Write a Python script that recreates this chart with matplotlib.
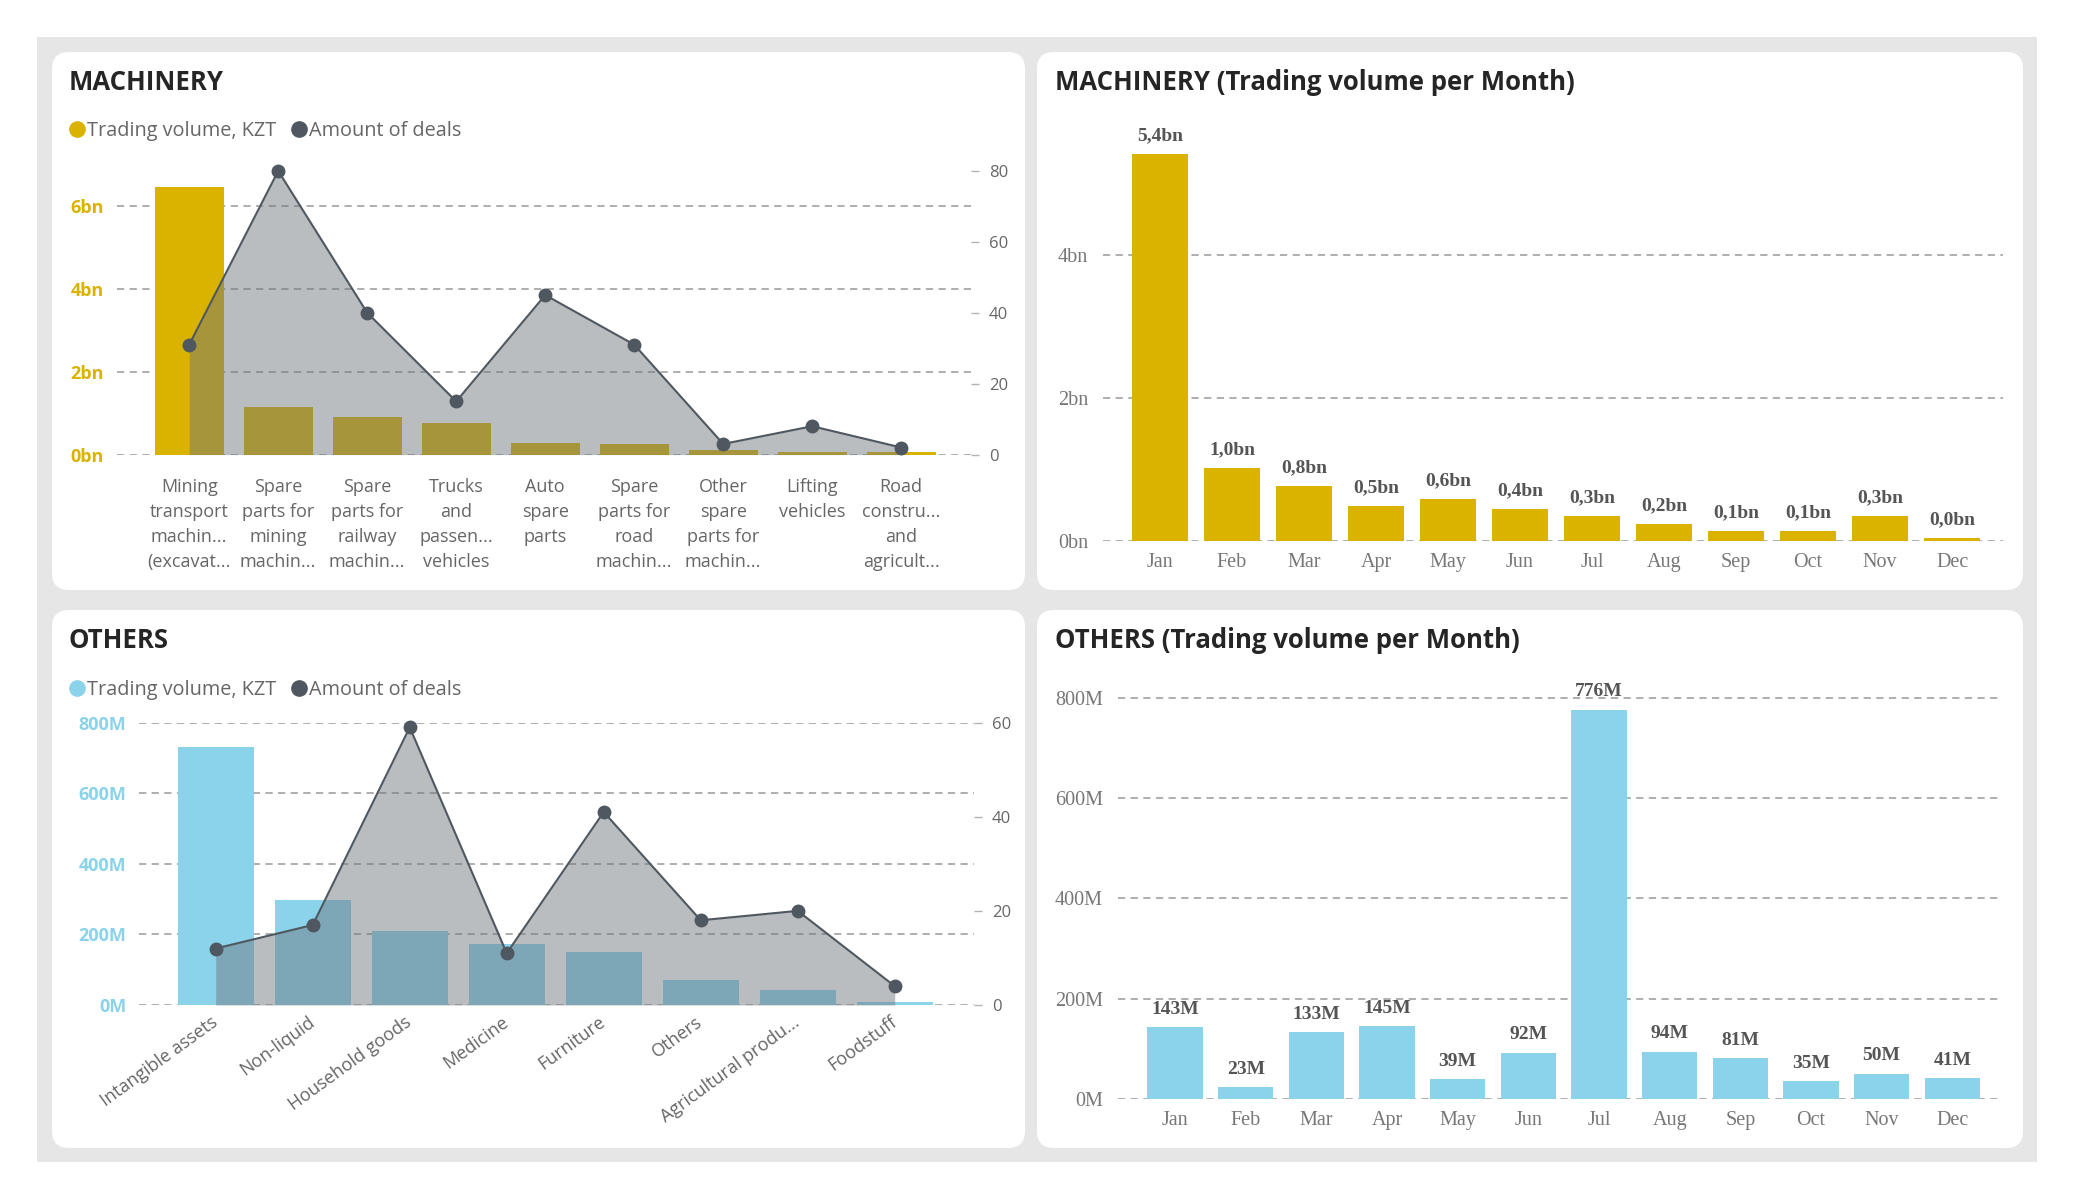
import numpy as np
import matplotlib.pyplot as plt
from matplotlib.patches import FancyBboxPatch
from matplotlib.lines import Line2D

plt.rcParams['font.family'] = ['Open Sans', 'DejaVu Sans']

# ---- data ----
machinery_categories = [
    'Mining\ntransport\nmachin...\n(excavat...',
    'Spare\nparts for\nmining\nmachin...',
    'Spare\nparts for\nrailway\nmachin...',
    'Trucks\nand\npassen...\nvehicles',
    'Auto\nspare\nparts',
    'Spare\nparts for\nroad\nmachin...',
    'Other\nspare\nparts for\nmachin...',
    'Lifting\nvehicles',
    'Road\nconstru...\nand\nagricult...',
]
machinery_volume = [6.45e9, 1.16e9, 0.90e9, 0.77e9, 0.29e9, 0.26e9, 0.11e9, 0.06e9, 0.06e9]
machinery_deals = [31, 80, 40, 15, 45, 31, 3, 8, 2]

others_categories = ['Intangible assets', 'Non-liquid', 'Household goods', 'Medicine',
                     'Furniture', 'Others', 'Agricultural produ...', 'Foodstuff']
others_volume = [730e6, 297e6, 210e6, 172e6, 150e6, 70e6, 43e6, 8e6]
others_deals = [12, 17, 59, 11, 41, 18, 20, 4]

months = ['Jan', 'Feb', 'Mar', 'Apr', 'May', 'Jun', 'Jul', 'Aug', 'Sep', 'Oct', 'Nov', 'Dec']
machinery_monthly = [5.41e9, 1.02e9, 0.77e9, 0.48e9, 0.58e9, 0.44e9, 0.34e9, 0.24e9,
                     0.14e9, 0.14e9, 0.34e9, 0.04e9]
others_monthly = [143e6, 23e6, 133e6, 145e6, 39e6, 92e6, 776e6, 94e6, 81e6, 35e6, 50e6, 41e6]

GOLD = '#D9B300'
BLUE = '#8AD3EB'
DEALS = '#4f5860'
AREA = '#6f767d'
GRID = '#a8a8a8'
TEXT = '#666666'
SERIF = 'Liberation Serif'

W, H = 2075, 1200
fig = plt.figure(figsize=(W / 100, H / 100), dpi=100)


def px(x, y):
    # pixel position (from top-left) -> figure fraction
    return x / W, 1 - y / H


def rect(x0, y0, x1, y1):
    return [x0 / W, 1 - y1 / H, (x1 - x0) / W, (y1 - y0) / H]


def card(x0, y0, x1, y1):
    # white rounded card, drawn in inches so the corners stay round
    p = FancyBboxPatch((x0 / 100, (H - y1) / 100), (x1 - x0) / 100, (y1 - y0) / 100,
                       boxstyle='round,pad=0,rounding_size=0.17', transform=fig.dpi_scale_trans,
                       facecolor='white', edgecolor='none', zorder=-5)
    fig.patches.append(p)


# background
fig.patches.append(plt.Rectangle((0.37, 0.38), 20.0, 11.25, transform=fig.dpi_scale_trans,
                                 facecolor='#e6e6e6', edgecolor='none', zorder=-10))
card(52, 52, 1025, 590)
card(1037, 52, 2023, 590)
card(52, 610, 1025, 1148)
card(1037, 610, 2023, 1148)


def combo_panel(box, cats, volume, deals, color, scale, unit, lticks, ltop, rticks, rtop, xlim, rotate):
    ax = fig.add_axes(box)
    ax.set_facecolor('none')
    x = np.arange(len(cats))
    ax.bar(x, volume, width=0.78, color=color, zorder=2)
    ax.set_ylim(0, ltop)
    ax.set_yticks(lticks, [f'{v / scale:.0f}{unit}' for v in lticks], fontweight='bold')
    ax.tick_params(axis='y', length=0, pad=9, labelsize=13, labelcolor=color)
    ax.grid(axis='y', color=GRID, linestyle=(0, (4, 3)), lw=1.3)
    ax.set_axisbelow(True)
    for s in ax.spines.values():
        s.set_visible(False)

    ax2 = ax.twinx()
    ax2.fill_between(x, deals, color=AREA, alpha=0.48, lw=0)
    ax2.plot(x, deals, color=DEALS, lw=1.5, marker='o', markersize=9, clip_on=False)
    ax2.set_ylim(0, rtop)
    ax2.set_yticks(rticks)
    ax2.tick_params(axis='y', length=6, width=1, color='#b3b3b3', pad=7, labelsize=12, labelcolor=TEXT)
    for s in ax2.spines.values():
        s.set_visible(False)

    ax.set_xlim(*xlim)
    ax.set_xticks(x)
    if rotate:
        ax.set_xticklabels(cats, rotation=36, ha='right', va='center', rotation_mode='anchor')
        ax.tick_params(axis='x', length=0, pad=11, labelsize=13, labelcolor=TEXT)
    else:
        ax.set_xticklabels(cats, linespacing=1.5)
        ax.tick_params(axis='x', length=0, pad=17, labelsize=13, labelcolor=TEXT)
    return ax


def monthly_panel(box, values, color, scale, unit, fmt, yticks, ytop, xlim):
    ax = fig.add_axes(box)
    ax.set_facecolor('none')
    x = np.arange(len(months))
    bars = ax.bar(x, values, width=0.78, color=color, zorder=2)
    ax.bar_label(bars, labels=[fmt(v / scale) + unit for v in values], padding=7,
                 fontsize=14, fontweight='bold', color='#555555', family=SERIF)
    ax.set_ylim(0, ytop)
    ax.set_yticks(yticks, [f'{v / scale:.0f}{unit}' for v in yticks], family=SERIF)
    ax.tick_params(axis='y', length=0, pad=11, labelsize=14.5, labelcolor='#777777')
    ax.set_xlim(*xlim)
    ax.set_xticks(x, months, family=SERIF)
    ax.tick_params(axis='x', length=0, pad=8.5, labelsize=14.5, labelcolor='#777777')
    ax.grid(axis='y', color=GRID, linestyle=(0, (4, 3)), lw=1.3)
    ax.set_axisbelow(True)
    for s in ax.spines.values():
        s.set_visible(False)
    return ax


def header(x, y, title):
    fig.text(*px(x, y), title, fontsize=18.5, fontweight='bold', color='#252525', va='center')


def legend(x, y, color):
    handles = [Line2D([], [], marker='o', linestyle='', markersize=11, color=color),
               Line2D([], [], marker='o', linestyle='', markersize=11, color=DEALS)]
    fig.legend(handles, ['Trading volume, KZT', 'Amount of deals'], loc='center left',
               bbox_to_anchor=px(x, y), ncol=2, frameon=False, handlelength=0.7,
               handletextpad=0.15, columnspacing=0.8, borderpad=0, borderaxespad=0,
               fontsize=14.3, labelcolor=TEXT)


# MACHINERY combo chart
header(69, 82, 'MACHINERY')
legend(70, 131, GOLD)
combo_panel(rect(116.5, 170.9, 971, 454.6), machinery_categories, machinery_volume, machinery_deals,
            GOLD, 1e9, 'bn', [0, 2e9, 4e9, 6e9], 6.848e9, [0, 20, 40, 60, 80], 80,
            (-0.817, 8.784), rotate=False)

# OTHERS combo chart
header(69, 640, 'OTHERS')
legend(70, 690, BLUE)
combo_panel(rect(138.9, 722.6, 974, 1005), others_categories, others_volume, others_deals,
            BLUE, 1e6, 'M', [0, 200e6, 400e6, 600e6, 800e6], 800e6, [0, 20, 40, 60], 60,
            (-0.792, 7.817), rotate=True)

# monthly charts
header(1055, 82, 'MACHINERY (Trading volume per Month)')
monthly_panel(rect(1103.2, 128, 2002.5, 540.7), machinery_monthly, GOLD, 1e9, 'bn',
              lambda v: f'{v:.1f}'.replace('.', ','), [0, 2e9, 4e9], 5.768e9, (-0.789, 11.70))

header(1055, 640, 'OTHERS (Trading volume per Month)')
monthly_panel(rect(1118, 687.8, 2002.5, 1099), others_monthly, BLUE, 1e6, 'M',
              lambda v: f'{v:.0f}', [0, 200e6, 400e6, 600e6, 800e6], 820e6, (-0.807, 11.71))

plt.savefig('out.png', dpi=100)
